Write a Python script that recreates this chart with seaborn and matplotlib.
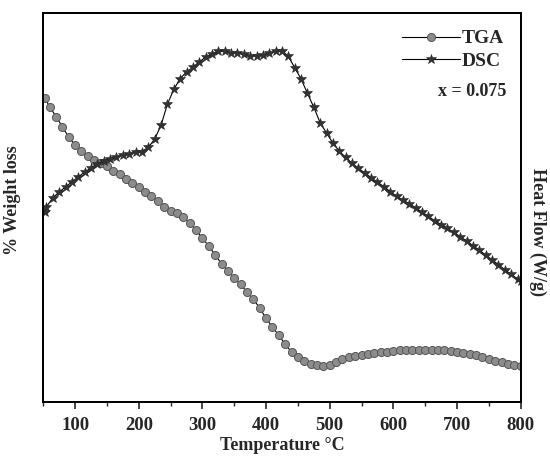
import pandas as pd
import matplotlib
matplotlib.use('Agg')
import matplotlib.pyplot as plt
import seaborn as sns

# TGA curve (temperature in C, weight signal in arbitrary units)
tga_temp = [52, 60, 70, 80, 90, 100, 110, 120, 130, 140, 150, 160, 170, 180, 190,
            200, 210, 220, 230, 240, 250, 260, 270, 280, 290, 300, 310, 320, 330,
            340, 350, 360, 370, 380, 390, 400, 410, 420, 430, 440, 450, 460, 470,
            480, 490, 500, 510, 520, 530, 540, 550, 560, 570, 580, 590, 600, 610,
            620, 630, 640, 650, 660, 670, 680, 690, 700, 710, 720, 730, 740, 750,
            760, 770, 780, 790, 800]
tga_weight = [78.2, 76.0, 73.4, 70.8, 68.1, 66.1, 64.5, 63.2, 62.2, 61.5, 60.6, 59.5,
              58.6, 57.4, 56.2, 55.2, 54.1, 52.9, 51.6, 50.2, 49.1, 48.5, 47.5, 46.0,
              44.2, 42.1, 40.1, 37.8, 35.5, 33.7, 31.9, 30.2, 28.2, 26.4, 24.1, 21.5,
              19.2, 17.1, 14.8, 12.8, 11.4, 10.5, 9.7, 9.4, 9.3, 9.5, 10.2, 10.9, 11.4,
              11.7, 12.0, 12.3, 12.6, 12.8, 12.9, 13.1, 13.2, 13.3, 13.4, 13.4, 13.4,
              13.4, 13.3, 13.2, 13.1, 12.9, 12.6, 12.3, 12.0, 11.6, 11.1, 10.5, 10.1,
              9.8, 9.5, 9.2]

# DSC curve (temperature in C, heat flow in arbitrary units)
dsc_temp = [52, 55, 65, 75, 85, 95, 105, 115, 125, 135, 145, 155, 165, 175, 185, 195,
            205, 215, 225, 235, 245, 255, 265, 275, 285, 295, 305, 315, 325, 335,
            345, 355, 365, 375, 385, 395, 405, 415, 425, 435, 445, 455, 465, 475,
            485, 495, 505, 515, 525, 535, 545, 555, 565, 575, 585, 595, 605, 615,
            625, 635, 645, 655, 665, 675, 685, 695, 705, 715, 725, 735, 745, 755,
            765, 775, 785, 795, 800]
dsc_flow = [48.8, 50.2, 52.5, 54.0, 55.3, 56.6, 57.9, 59.1, 60.2, 61.3, 62.1, 62.6,
            63.1, 63.5, 63.9, 64.2, 64.4, 65.5, 67.6, 71.2, 76.6, 80.4, 83.2, 84.9,
            86.1, 87.5, 88.7, 89.6, 90.2, 90.2, 89.9, 89.7, 89.4, 89.1, 89.0, 89.3,
            89.8, 90.2, 90.4, 88.9, 86.0, 83.1, 79.4, 75.8, 71.8, 69.2, 66.6, 64.5,
            62.9, 61.4, 60.1, 58.9, 57.7, 56.5, 55.4, 54.1, 52.9, 51.9, 51.0, 49.9,
            48.8, 47.7, 46.6, 45.6, 44.6, 43.6, 42.5, 41.4, 40.2, 39.0, 37.8, 36.5,
            35.3, 34.0, 32.8, 31.6, 31.0]

x_ticks = [100, 200, 300, 400, 500, 600, 700, 800]

tga = pd.DataFrame({'temp': tga_temp, 'weight': tga_weight})
dsc = pd.DataFrame({'temp': dsc_temp, 'flow': dsc_flow})

sns.set_style('ticks')
plt.rcParams['font.family'] = ['Liberation Serif', 'DejaVu Serif']
plt.rcParams['font.weight'] = 'bold'

fig = plt.figure(figsize=(5.5, 4.61), dpi=100)
ax = fig.add_axes([0.0787, 0.1286, 0.868, 0.8425])
ax2 = ax.twinx()

sns.lineplot(data=tga, x='temp', y='weight', ax=ax, color='black', lw=0.8,
             marker='o', markersize=5.8, markerfacecolor='#8c8c8c',
             markeredgecolor='#555555', markeredgewidth=0.7, label='TGA', legend=False)
sns.lineplot(data=dsc, x='temp', y='flow', ax=ax2, color='black', lw=0.8,
             marker='*', markersize=7, markerfacecolor='#333333',
             markeredgecolor='#222222', markeredgewidth=0.4, label='DSC', legend=False)

for a in (ax, ax2):
    a.set_ylim(0, 100)
    a.set_yticks([])
    a.set_ylabel('')
    for s in a.spines.values():
        s.set_linewidth(1.4)
        s.set_color('black')
        s.set_visible(True)

ax.set_xlim(50, 800)
ax.set_xticks(x_ticks)
ax.set_xticks(range(50, 801, 50), minor=True)
ax.tick_params(axis='x', which='major', direction='out', length=5, width=1.2,
               labelsize=13.5, pad=6)
ax.tick_params(axis='x', which='minor', direction='out', length=3, width=1.0)
for lab in ax.get_xticklabels():
    lab.set_fontweight('bold')

ax.set_xlabel('Temperature °C', fontsize=13, fontweight='bold', labelpad=2)
fig.text(0.022, 0.565, '% Weight loss', rotation=90, ha='center', va='center',
         fontsize=13, fontweight='bold')
fig.text(0.978, 0.497, 'Heat Flow (W/g)', rotation=270, ha='center', va='center',
         fontsize=13, fontweight='bold')

h1, l1 = ax.get_legend_handles_labels()
h2, l2 = ax2.get_legend_handles_labels()
leg = ax2.legend(h1 + h2, l1 + l2, loc='upper right', frameon=False,
                 handlelength=3.0, handletextpad=0.1, borderaxespad=0.45,
                 labelspacing=0.25, prop={'size': 14, 'weight': 'bold'})

ax2.text(0.969, 0.80, 'x = 0.075', transform=ax2.transAxes, ha='right', va='center',
         fontsize=13, fontweight='bold')

fig.savefig('out.png', dpi=100)
